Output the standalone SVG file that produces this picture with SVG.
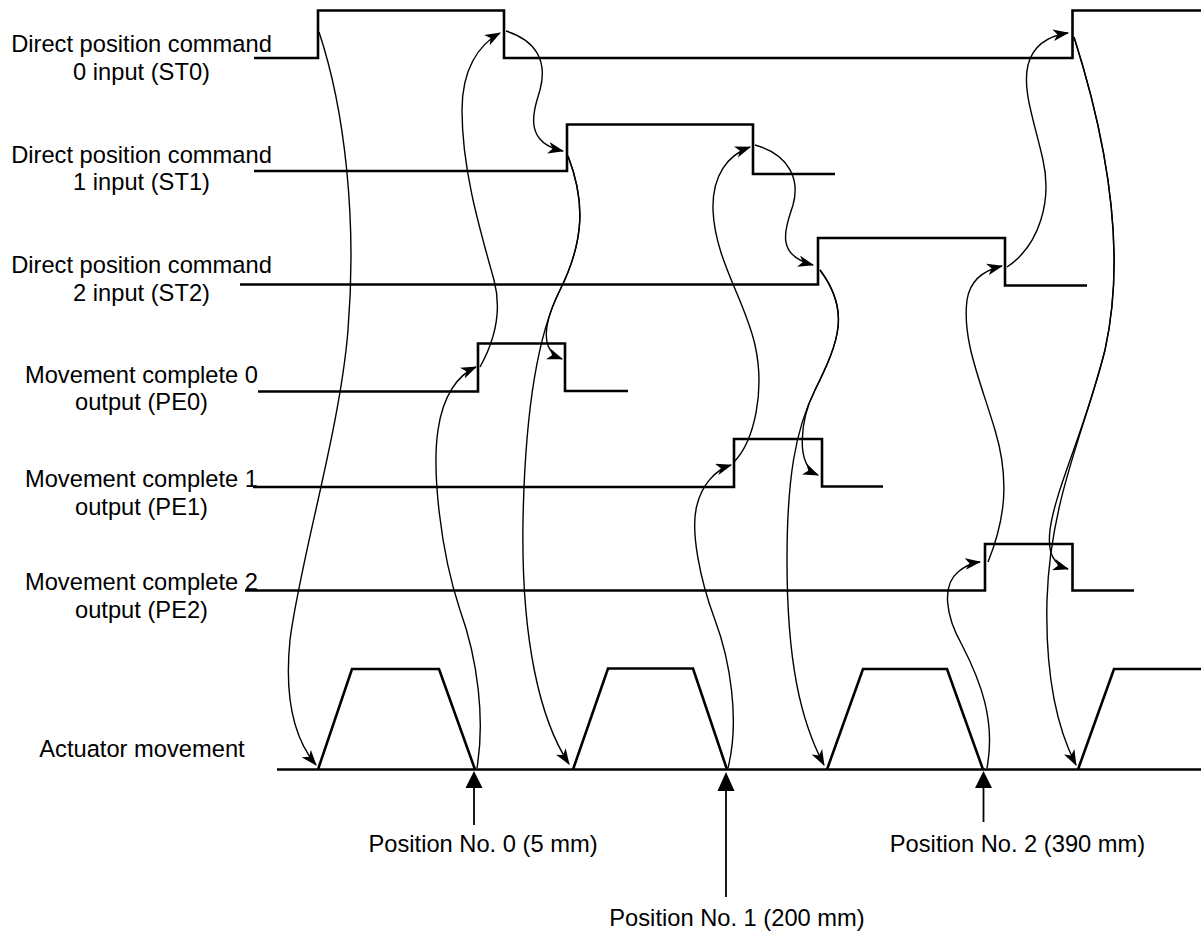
<svg xmlns="http://www.w3.org/2000/svg" width="1201" height="934" viewBox="0 0 1201 934">
<style>
text{font-family:"Liberation Sans",Arial,sans-serif;font-size:23.7px;fill:#000;text-anchor:middle}
.sig{fill:none;stroke:#000;stroke-width:2.6}
.cv{fill:none;stroke:#000;stroke-width:1.4;marker-end:url(#ah)}
.pos{stroke:#000;stroke-width:1.8}
</style>
<defs>
<marker id="ah" markerUnits="userSpaceOnUse" markerWidth="16" markerHeight="12" viewBox="0 0 15 11" refX="14" refY="5.5" orient="auto">
<path d="M0,0 L15,5.5 L0,11 L4,5.5 z" fill="#000"/>
</marker>
</defs>
<rect width="1201" height="934" fill="#fff"/>
<g id="label-st0"><text x="141.5" y="51.7">Direct position command</text><text x="141.5" y="80">0 input (ST0)</text></g>
<g id="label-st1"><text x="141.5" y="162.7">Direct position command</text><text x="141.5" y="190">1 input (ST1)</text></g>
<g id="label-st2"><text x="141.5" y="272.7">Direct position command</text><text x="141.5" y="300.7">2 input (ST2)</text></g>
<g id="label-pe0"><text x="141.5" y="382.7">Movement complete 0</text><text x="141.5" y="410">output (PE0)</text></g>
<g id="label-pe1"><text x="141.5" y="486.7">Movement complete 1</text><text x="141.5" y="515">output (PE1)</text></g>
<g id="label-pe2"><text x="141.5" y="590">Movement complete 2</text><text x="141.5" y="618.3">output (PE2)</text></g>
<g id="label-act"><text x="142" y="756.7">Actuator movement</text></g>
<g id="sig-st0"><path class="sig" d="M254,58 H318 V10.5 H504 V58 H1072.5 V10.5 H1201"/></g>
<g id="sig-st1"><path class="sig" d="M254,171 H567 V124.5 H753 V174 H835"/></g>
<g id="sig-st2"><path class="sig" d="M240,284.5 H818 V238 H1005 V285.5 H1087"/></g>
<g id="sig-pe0"><path class="sig" d="M258,391.5 H478 V343.5 H565 V391 H628"/></g>
<g id="sig-pe1"><path class="sig" d="M253,487 H734 V439 H822 V486.5 H883"/></g>
<g id="sig-pe2"><path class="sig" d="M245,590.5 H985 V544 H1072.5 V590.5 H1134"/></g>
<g id="actuator">
<path class="sig" d="M277,769.5 H1201"/>
<path class="sig" d="M318,769.5 L352,669 H439 L475,769.5"/>
<path class="sig" d="M573,769.5 L608,668.5 H693 L727,769.5"/>
<path class="sig" d="M827,769.5 L863,669 H947 L983,769.5"/>
<path class="sig" d="M1078,769.5 L1114,669 H1201"/>
</g>
<g id="pos0"><path d="M474,771 L482.5,788 L465.5,788 z"/><line class="pos" x1="474" y1="787" x2="474" y2="825"/><text x="483" y="851.7">Position No. 0 (5 mm)</text></g>
<g id="pos1"><path d="M726,772 L734.5,791 L717.5,791 z"/><line class="pos" x1="726" y1="790" x2="726" y2="897"/><text x="737" y="926">Position No. 1 (200 mm)</text></g>
<g id="pos2"><path d="M983.5,771 L992,788 L975,788 z"/><line class="pos" x1="983.5" y1="787" x2="983.5" y2="822"/><text x="1017.5" y="851.7">Position No. 2 (390 mm)</text></g>
<g id="connectors">
<path class="cv" d="M319,32 C345,110 357,220 348,330 C340,430 300,560 290,640 C284,700 295,740 316,765"/>
<path class="cv" d="M477,768 C485,720 478,660 460,610 C440,550 432,470 438,430 C443,395 458,375 476,367"/>
<path class="cv" d="M480,367 C495,340 502,310 494,280 C480,230 462,170 462,110 C462,70 478,45 500,33"/>
<path class="cv" d="M506,31 C535,40 548,60 540,90 C534,110 522,142 563,151"/>
<path class="cv" d="M568,156 C585,200 585,240 560,290 C535,340 525,420 523,520 C521,640 540,720 569,764"/>
<path class="cv" d="M568,156 C585,200 585,240 560,290 C545,320 538,350 562,359"/>
<path class="cv" d="M728,768 C740,720 730,660 715,620 C700,580 690,530 697,505 C702,485 715,470 731,465"/>
<path class="cv" d="M734,462 C755,440 765,390 755,345 C745,300 715,260 713,210 C712,175 728,155 750,147"/>
<path class="cv" d="M755,145 C790,155 800,180 793,205 C785,230 775,255 813,265"/>
<path class="cv" d="M820,270 C850,310 840,340 815,390 C795,430 787,480 787,560 C787,660 800,720 824,765"/>
<path class="cv" d="M820,270 C850,310 840,340 815,390 C800,420 795,465 818,475"/>
<path class="cv" d="M987,768 C996,720 980,680 962,645 C945,615 942,585 958,572 C965,566 972,563 980,562"/>
<path class="cv" d="M988,562 C1005,520 1010,480 995,430 C980,380 962,340 967,300 C970,280 985,270 1002,266"/>
<path class="cv" d="M1007,267 C1040,245 1052,200 1043,160 C1034,120 1022,90 1028,65 C1033,45 1048,36 1068,33"/>
<path class="cv" d="M1074,37 C1110,150 1125,260 1105,350 C1085,430 1050,500 1047,600 C1045,680 1058,730 1076,765"/>
<path class="cv" d="M1074,37 C1110,150 1125,260 1105,350 C1085,430 1055,490 1050,530 C1047,555 1055,565 1068,569"/>
</g>
</svg>
